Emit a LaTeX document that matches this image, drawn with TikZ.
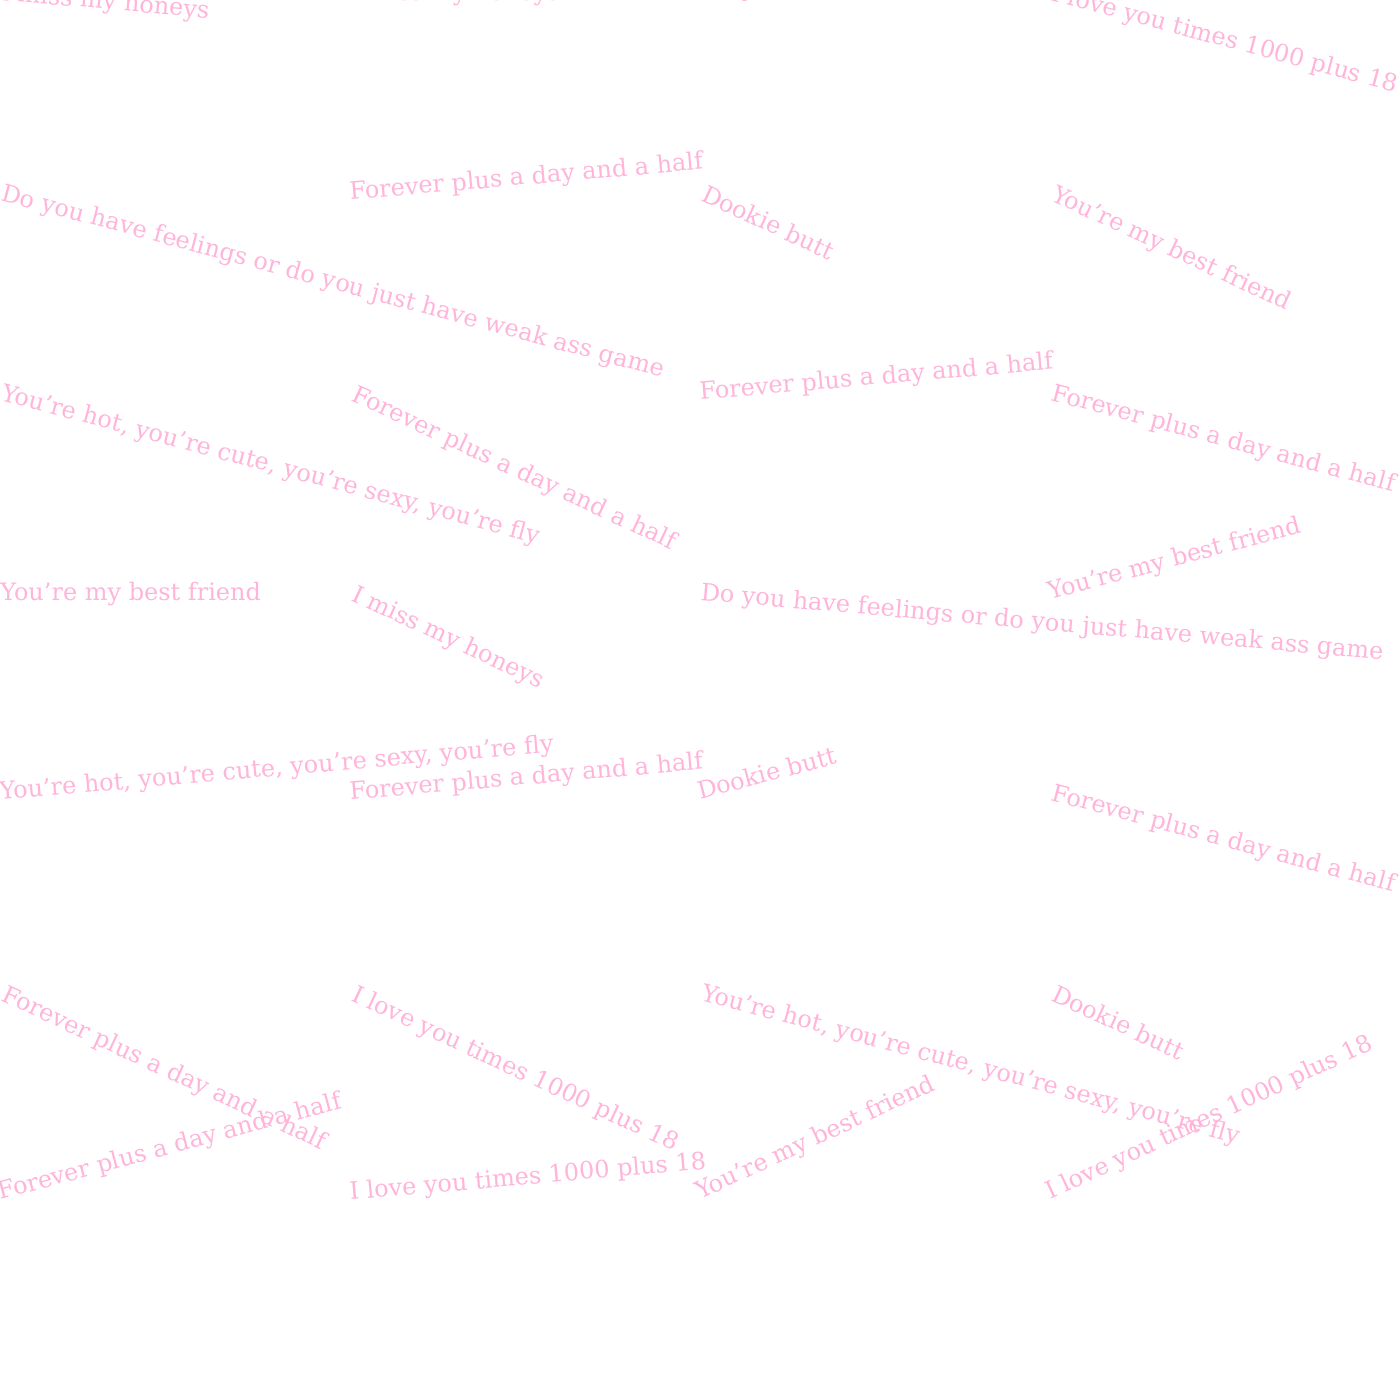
\documentclass[tikz,border=0pt]{standalone}
\usepackage{fontspec}
\setmainfont{DejaVu Serif}
\usepackage{xcolor}
\definecolor{lovepink}{RGB}{255,180,218}

\begin{document}
\begin{tikzpicture}[x=0.75pt,y=0.75pt,yscale=-1,xscale=1,
    phrase/.style={anchor=base west,inner sep=0pt,text=lovepink,font=\fontsize{18}{22}\selectfont}]
    %set diagram to 1400 x 1400
    \useasboundingbox (0,0) rectangle (1400,1400);
    \clip (0,0) rectangle (1400,1400);

    % Text Node
    \draw (0,0) node (honeysA) [phrase, rotate=-5] {I miss my honeys};
    % Text Node
    \draw (350,0) node (honeysB) [phrase] {I miss my honeys};
    % Text Node
    \draw (700,0) node (feelA) [phrase, rotate=5] {Do you have feelings or do you just have weak ass game};
    % Text Node
    \draw (1050,0) node (timesA) [phrase, rotate=-15] {I love you times 1000 plus 18};

    % Text Node
    \draw (0,200) node (feelB) [phrase, rotate=-15] {Do you have feelings or do you just have weak ass game};
    % Text Node
    \draw (350,200) node (foreverA) [phrase, rotate=5] {Forever plus a day and a half};
    % Text Node
    \draw (700,200) node (dookieA) [phrase, rotate=-25] {Dookie butt};
    % Text Node
    \draw (1050,200) node (friendA) [phrase, rotate=-25] {You’re my best friend};

    % Text Node
    \draw (0,400) node (hotA) [phrase, rotate=-15] {You’re hot, you’re cute, you’re sexy, you’re fly};
    % Text Node
    \draw (350,400) node (foreverB) [phrase, rotate=-25] {Forever plus a day and a half};
    % Text Node
    \draw (700,400) node (foreverC) [phrase, rotate=5] {Forever plus a day and a half};
    % Text Node
    \draw (1050,400) node (foreverD) [phrase, rotate=-15] {Forever plus a day and a half};

    % Text Node
    \draw (0,600) node (friendB) [phrase] {You’re my best friend};
    % Text Node
    \draw (350,600) node (honeysC) [phrase, rotate=-25] {I miss my honeys};
    % Text Node
    \draw (700,600) node (feelC) [phrase, rotate=-5] {Do you have feelings or do you just have weak ass game};
    % Text Node
    \draw (1050,600) node (friendC) [phrase, rotate=15] {You’re my best friend};

    % Text Node
    \draw (0,800) node (hotB) [phrase, rotate=5] {You’re hot, you’re cute, you’re sexy, you’re fly};
    % Text Node
    \draw (350,800) node (foreverE) [phrase, rotate=5] {Forever plus a day and a half};
    % Text Node
    \draw (700,800) node (dookieB) [phrase, rotate=15] {Dookie butt};
    % Text Node
    \draw (1050,800) node (foreverF) [phrase, rotate=-15] {Forever plus a day and a half};

    % Text Node
    \draw (0,1000) node (foreverG) [phrase, rotate=-25] {Forever plus a day and a half};
    % Text Node
    \draw (350,1000) node (timesB) [phrase, rotate=-25] {I love you times 1000 plus 18};
    % Text Node
    \draw (700,1000) node (hotC) [phrase, rotate=-15] {You’re hot, you’re cute, you’re sexy, you’re fly};
    % Text Node
    \draw (1050,1000) node (dookieC) [phrase, rotate=-25] {Dookie butt};

    % Text Node
    \draw (0,1200) node (foreverH) [phrase, rotate=15] {Forever plus a day and a half};
    % Text Node
    \draw (350,1200) node (timesC) [phrase, rotate=5] {I love you times 1000 plus 18};
    % Text Node
    \draw (700,1200) node (friendD) [phrase, rotate=25] {You’re my best friend};
    % Text Node
    \draw (1050,1200) node (timesD) [phrase, rotate=25] {I love you times 1000 plus 18};
\end{tikzpicture}
\end{document}
